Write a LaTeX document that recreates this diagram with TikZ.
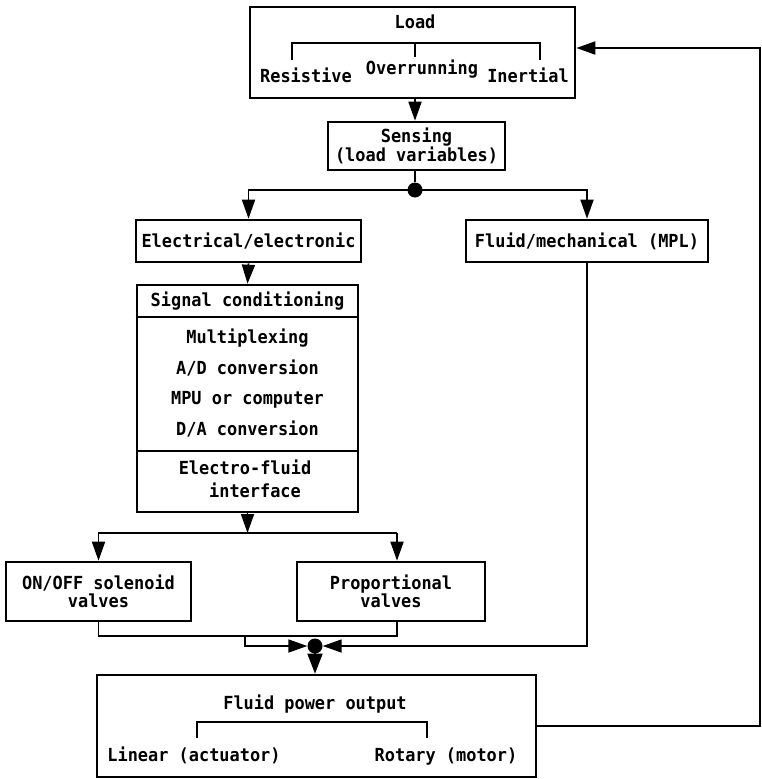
\documentclass[tikz,border=0pt]{standalone}
\usepackage{fontspec}
\setmainfont{DejaVu Sans Mono}[FakeStretch=0.94]
\usetikzlibrary{arrows.meta}
\newcommand\fs{\fontsize{18}{18}\selectfont\bfseries}
\begin{document}
\begin{tikzpicture}[x=1pt,y=-1pt,
  box/.style={draw,line width=2.6pt,inner sep=0pt,align=center,font=\fs},
  conn/.style={line width=1.8pt},
  arr/.style={conn,-{Triangle[length=19pt,width=13pt]}},
  txt/.style={inner sep=0pt,font=\fs,text height=13pt,text depth=3.5pt},
  dotn/.style={circle,fill,inner sep=0pt,minimum size=15pt},
]
\useasboundingbox (0,0) rectangle (762,779);

% Load box
\node[box,minimum width=325pt,minimum height=91pt] (load) at (412.5,52.5) {};
\node[txt] (loadt) at (415,24) {Load};
\draw[conn] (292,60) -- (292,43) -- (540,43) -- (540,60);
\draw[conn] (415,43) -- (415,57);
\node[txt] (res) at (306,78) {Resistive};
\node[txt] (ovr) at (422,70) {Overrunning};
\node[txt] (ine) at (528,78) {Inertial};

% Sensing
\node[box,minimum width=177pt,minimum height=48pt] (sense) at (416.5,146) {Sensing\\(load variables)};
\node[dotn] (d1) at (415,190) {};

% Electrical and fluid/mechanical
\node[box,minimum width=225pt,minimum height=42pt] (elec) at (248.5,241) {Electrical/electronic};
\node[box,minimum width=242pt,minimum height=42pt] (fm) at (587,241) {Fluid/mechanical (MPL)};

% Signal conditioning block
\node[box,minimum width=221pt,minimum height=227pt] (sig) at (247.5,398.5) {};
\draw[line width=2.2pt] (sig.west |- 0,317) -- (sig.east |- 0,317);
\draw[line width=2.2pt] (sig.west |- 0,451) -- (sig.east |- 0,451);
\node[txt] (s1) at (247.5,302) {Signal conditioning};
\node[txt] (s2) at (247.5,339) {Multiplexing};
\node[txt] (s3) at (247.5,370) {A/D conversion};
\node[txt] (s4) at (247.5,400) {MPU or computer};
\node[txt] (s5) at (247.5,431) {D/A conversion};
\node[txt] (s6) at (245,470) {Electro-fluid};
\node[txt] (s7) at (255,493) {interface};

% Valves
\node[box,minimum width=185pt,minimum height=59pt] (onoff) at (98.5,591.5) {ON/OFF solenoid\\valves};
\node[box,minimum width=188pt,minimum height=59pt] (prop) at (391,591.5) {Proportional\\valves};

% Output
\node[box,minimum width=439pt,minimum height=102pt] (out) at (316.5,726) {};
\node[txt] (o1) at (315,705) {Fluid power output};
\draw[conn] (197,738) -- (197,722) -- (427,722) -- (427,738);
\node[txt] (o2) at (194,757) {Linear (actuator)};
\node[txt] (o3) at (446,757) {Rotary (motor)};

% Connectors
\draw[arr] (load.south -| d1) -- (sense.north -| d1);
\draw[conn] (sense.south -| d1) -- (d1);
\draw[arr] (d1.center) -| (elec.north);
\draw[arr] (d1.center) -| (fm.north);
\draw[arr] (elec.south) -- (sig.north);

\coordinate (sp) at (247.5,533);
\coordinate (pa) at (397,533);
\draw[arr] (sig.south) -- (sp);
\draw[arr] (sp) -| (onoff.north);
\draw[conn] (sp) -- (pa);
\draw[arr] (pa) -- (prop.north -| pa);

\node[dotn] (jd) at (315,646) {};
\coordinate (m1) at (245,636);
\coordinate (pb) at (397,636);
\draw[conn] (onoff.south) |- (pb) -- (pb |- prop.south);
\draw[arr] (m1) |- (jd.west);
\draw[arr] (fm.south) |- (jd.east);
\draw[conn,-{Triangle[length=20pt,width=15pt]}] (jd.center) -- (out.north -| jd);

\coordinate (fbc) at (760,48);
\draw[arr] (out.east) -| (fbc) -- (fbc -| load.east);
\end{tikzpicture}
\end{document}
